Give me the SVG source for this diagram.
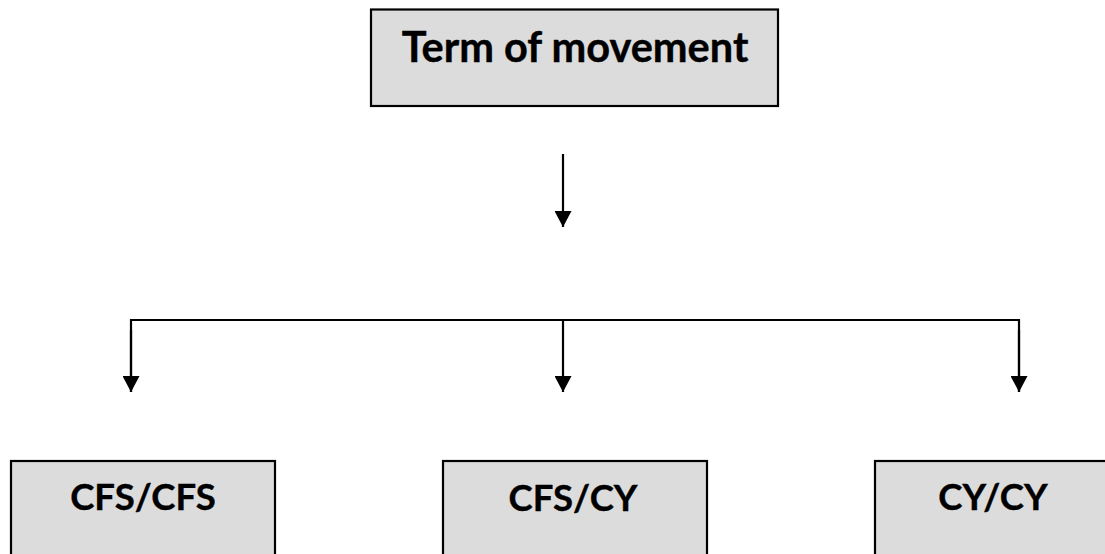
<svg xmlns="http://www.w3.org/2000/svg" width="1105" height="554" viewBox="0 0 1105 554">
<defs>
<marker id="ah" markerWidth="17" markerHeight="17" viewBox="0 0 17 17" refX="16" refY="8.5" orient="auto" markerUnits="userSpaceOnUse">
<path d="M0,0 L16,8.5 L0,17 Z" fill="#000"/>
</marker>
<style>
.box{fill:#dcdcdc;stroke:#000;stroke-width:2.2}
.lbl{font-family:Lato,"Liberation Sans",sans-serif;font-weight:bold;fill:#000;stroke:#000;stroke-width:0.4;text-anchor:middle}
.ln{stroke:#000;stroke-width:2.2;fill:none}
</style>
</defs>
<rect width="1105" height="554" fill="#fff"/>
<g id="top">
<rect class="box" x="371" y="9.5" width="407" height="96.5"/>
<text class="lbl" x="575" y="62" font-size="41.5">Term of movement</text>
</g>
<g id="connectors">
<line class="ln" x1="563" y1="154" x2="563" y2="227" marker-end="url(#ah)"/>
<path class="ln" d="M131,392 V320 H1019 V392"/>
<line class="ln" x1="131" y1="330" x2="131" y2="392" marker-end="url(#ah)"/>
<line class="ln" x1="563" y1="320" x2="563" y2="392" marker-end="url(#ah)"/>
<line class="ln" x1="1019" y1="330" x2="1019" y2="392" marker-end="url(#ah)"/>
</g>
<g id="cfs-cfs">
<rect class="box" x="11" y="461" width="264" height="100"/>
<text class="lbl" x="143" y="510" font-size="36.5">CFS/CFS</text>
</g>
<g id="cfs-cy">
<rect class="box" x="443" y="461" width="264" height="100"/>
<text class="lbl" x="573" y="511" font-size="36.5">CFS/CY</text>
</g>
<g id="cy-cy">
<rect class="box" x="875" y="461" width="264" height="100"/>
<text class="lbl" x="993" y="510" font-size="36.5">CY/CY</text>
</g>
</svg>
